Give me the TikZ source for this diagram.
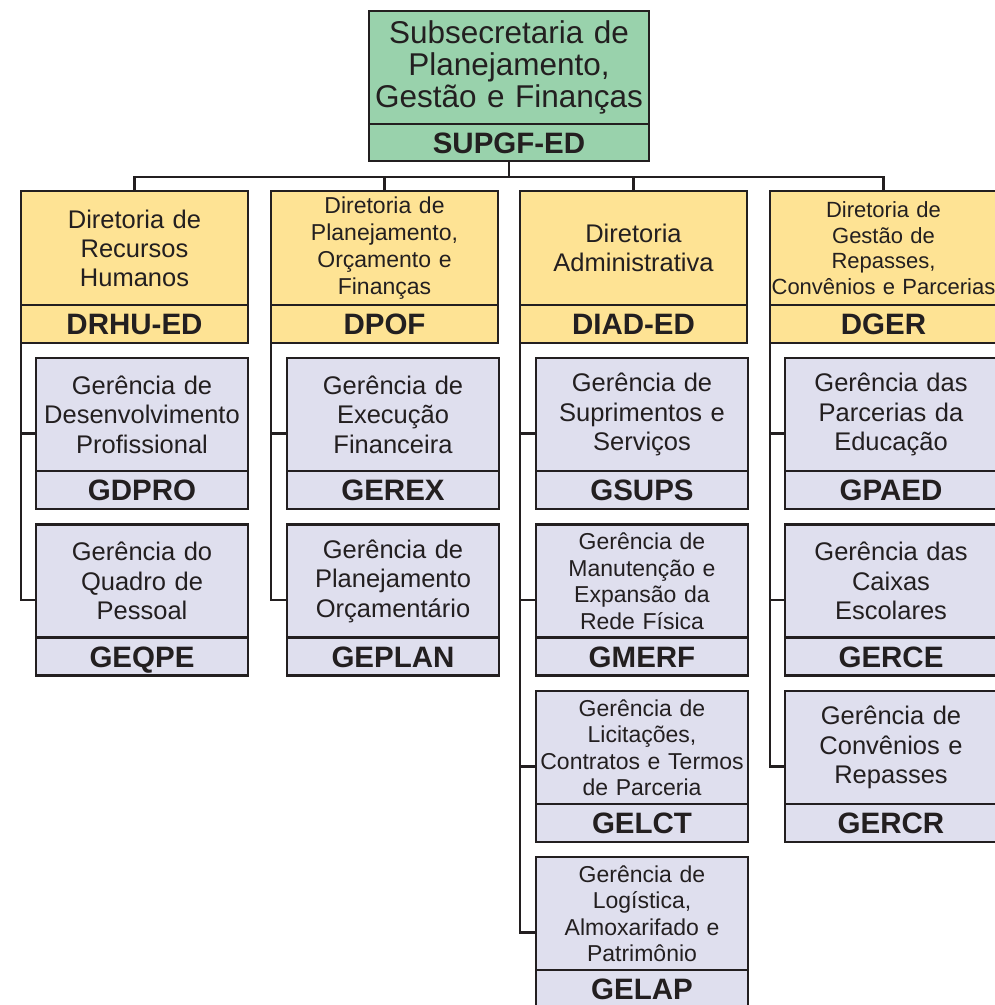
\documentclass[tikz,border=0pt]{standalone}
\usepackage{fontspec}
\setmainfont{Liberation Sans}
\definecolor{ink}{HTML}{231F20}
\definecolor{topgreen}{HTML}{99D2AC}
\definecolor{diryellow}{HTML}{FEE394}
\definecolor{sublav}{HTML}{DFDFEE}
\tikzset{
  boxline/.style={draw=ink, line width=2.6pt, inner sep=0pt, outer sep=0pt},
  conn/.style={draw=ink, line width=2.6pt, line join=miter},
  txt/.style={inner sep=0pt, outer sep=0pt, align=center, text=ink},
  codefont/.style={font=\fontsize{29.5}{31}\selectfont\bfseries, text height=21pt, text depth=0pt},
  topframe/.style={boxline, fill=topgreen, minimum width=280pt, minimum height=150pt},
  toptext/.style={txt, text width=280pt, minimum height=113pt, anchor=north, font=\fontsize{31.5}{32}\selectfont},
  topcode/.style={boxline, txt, fill=topgreen, minimum width=280pt, minimum height=37pt, anchor=south, codefont},
  dirframe/.style={boxline, fill=diryellow, minimum width=227pt, minimum height=152pt},
  dirtext/.style={txt, text width=227pt, minimum height=114pt, anchor=north, font=\fontsize{25.5}{29}\selectfont},
  dirtextsmall/.style={dirtext, font=\fontsize{23}{27}\selectfont},
  dirtextxs/.style={dirtext, font=\fontsize{22}{25.5}\selectfont},
  dircode/.style={boxline, txt, fill=diryellow, minimum width=227pt, minimum height=38pt, anchor=south, codefont},
  subframe/.style={boxline, fill=sublav, minimum width=212pt, minimum height=151pt},
  subtext/.style={txt, text width=212pt, minimum height=113pt, anchor=north, font=\fontsize{25.5}{29.5}\selectfont},
  subtextsmall/.style={subtext, font=\fontsize{23}{26.5}\selectfont},
  subcode/.style={boxline, txt, fill=sublav, minimum width=212pt, minimum height=38pt, anchor=south, codefont},
}
\begin{document}
\begin{tikzpicture}[x=1pt,y=-1pt]
\useasboundingbox (0,0) rectangle (995,1005);
\clip (0,0) rectangle (995,1005);
\fill[white] (0,0) rectangle (995,1005);

% top box
\node[topframe] (sup) at (509,86) {};
\node[toptext] (supt) at (sup.north) {Subsecretaria de\\Planejamento,\\Gestão e Finanças};
\node[topcode] (supc) at (sup.south) {SUPGF-ED};

% directorates
\node[dirframe] (d1) at (134.5,267) {};
\node[dirtext] (d1t) at (d1.north) {Diretoria de\\Recursos\\Humanos};
\node[dircode] (d1c) at (d1.south) {DRHU-ED};

\node[dirframe] (d2) at (384.5,267) {};
\node[dirtextsmall] (d2t) at (d2.north) {Diretoria de\\Planejamento,\\Orçamento e\\Finanças};
\node[dircode] (d2c) at (d2.south) {DPOF};

\node[dirframe] (d3) at (633.5,267) {};
\node[dirtext] (d3t) at (d3.north) {Diretoria\\Administrativa};
\node[dircode] (d3c) at (d3.south) {DIAD-ED};

\node[dirframe] (d4) at (883.5,267) {};
\node[dirtextxs] (d4t) at (d4.north) {Diretoria de\\Gestão de\\Repasses,\\Convênios e Parcerias};
\node[dircode] (d4c) at (d4.south) {DGER};

% column 1
\node[subframe] (g11) at (142,433.5) {};
\node[subtext] (g11t) at (g11.north) {Gerência de\\Desenvolvimento\\Profissional};
\node[subcode] (g11c) at (g11.south) {GDPRO};

\node[subframe] (g12) at (142,600) {};
\node[subtext] (g12t) at (g12.north) {Gerência do\\Quadro de\\Pessoal};
\node[subcode] (g12c) at (g12.south) {GEQPE};

% column 2
\node[subframe] (g21) at (393,433.5) {};
\node[subtext] (g21t) at (g21.north) {Gerência de\\Execução\\Financeira};
\node[subcode] (g21c) at (g21.south) {GEREX};

\node[subframe] (g22) at (393,600) {};
\node[subtext] (g22t) at (g22.north) {Gerência de\\Planejamento\\Orçamentário};
\node[subcode] (g22c) at (g22.south) {GEPLAN};

% column 3
\node[subframe] (g31) at (642,433.5) {};
\node[subtext] (g31t) at (g31.north) {Gerência de\\Suprimentos e\\Serviços};
\node[subcode] (g31c) at (g31.south) {GSUPS};

\node[subframe] (g32) at (642,600) {};
\node[subtextsmall] (g32t) at (g32.north) {Gerência de\\Manutenção e\\Expansão da\\Rede Física};
\node[subcode] (g32c) at (g32.south) {GMERF};

\node[subframe] (g33) at (642,766.5) {};
\node[subtextsmall] (g33t) at (g33.north) {Gerência de\\Licitações,\\Contratos e Termos\\de Parceria};
\node[subcode] (g33c) at (g33.south) {GELCT};

\node[subframe] (g34) at (642,932.5) {};
\node[subtextsmall] (g34t) at (g34.north) {Gerência de\\Logística,\\Almoxarifado e\\Patrimônio};
\node[subcode] (g34c) at (g34.south) {GELAP};

% column 4
\node[subframe] (g41) at (891,433.5) {};
\node[subtext] (g41t) at (g41.north) {Gerência das\\Parcerias da\\Educação};
\node[subcode] (g41c) at (g41.south) {GPAED};

\node[subframe] (g42) at (891,600) {};
\node[subtext] (g42t) at (g42.north) {Gerência das\\Caixas\\Escolares};
\node[subcode] (g42c) at (g42.south) {GERCE};

\node[subframe] (g43) at (891,766.5) {};
\node[subtext] (g43t) at (g43.north) {Gerência de\\Convênios e\\Repasses};
\node[subcode] (g43c) at (g43.south) {GERCR};

% connectors
\coordinate (bus) at (509,177);
\draw[conn] (sup.south) -- (bus);
\draw[conn] (d1.north) |- (bus) -| (d4.north);
\draw[conn] (d2.north) -- (d2.north |- bus);
\draw[conn] (d3.north) -- (d3.north |- bus);

\draw[conn] (d1.south west) |- (g11.west);
\draw[conn] (d1.south west) |- (g12.west);
\draw[conn] (d2.south west) |- (g21.west);
\draw[conn] (d2.south west) |- (g22.west);
\draw[conn] (d3.south west) |- (g31.west);
\draw[conn] (d3.south west) |- (g32.west);
\draw[conn] (d3.south west) |- (g33.west);
\draw[conn] (d3.south west) |- (g34.west);
\draw[conn] (d4.south west) |- (g41.west);
\draw[conn] (d4.south west) |- (g42.west);
\draw[conn] (d4.south west) |- (g43.west);
\end{tikzpicture}
\end{document}
